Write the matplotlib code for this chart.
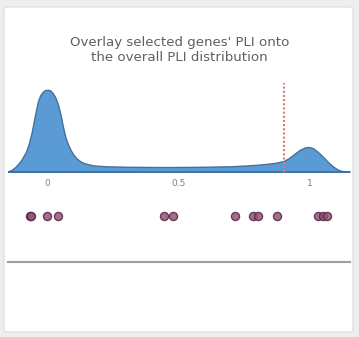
import numpy as np
import matplotlib
matplotlib.use('Agg')
from matplotlib import pyplot as plt
from matplotlib.patches import FancyBboxPatch
from matplotlib.lines import Line2D

# overall PLI distribution (density)
pli_grid = [-0.15, -0.135, -0.12, -0.10, -0.08, -0.068, -0.057, -0.045, -0.034, -0.025,
            -0.015, -0.006, 0.004, 0.013, 0.022, 0.032, 0.042, 0.052, 0.061, 0.07,
            0.08, 0.09, 0.10, 0.112, 0.125, 0.14, 0.16, 0.18, 0.22, 0.30, 0.40, 0.50,
            0.60, 0.70, 0.76, 0.80, 0.84, 0.87, 0.90, 0.92, 0.94, 0.96, 0.98, 0.995,
            1.01, 1.03, 1.05, 1.07, 1.09, 1.105, 1.12, 1.15]
density = [0.02, 0.08, 0.20, 0.44, 0.80, 1.16, 1.64, 2.30, 2.84, 3.08,
           3.22, 3.28, 3.29, 3.26, 3.16, 2.98, 2.70, 2.28, 1.80, 1.40,
           1.10, 0.88, 0.70, 0.55, 0.44, 0.36, 0.30, 0.26, 0.23, 0.21, 0.20, 0.20,
           0.21, 0.23, 0.26, 0.29, 0.33, 0.37, 0.44, 0.56, 0.72, 0.88, 0.98, 1.00,
           0.96, 0.80, 0.60, 0.38, 0.20, 0.10, 0.04, 0.02]

# selected genes' PLI values
gene_pli = [0.0, 0.005, 0.057, 0.094, 0.45, 0.48, 0.688, 0.748, 0.765, 0.829,
            0.966, 0.983, 0.997]
threshold = 0.9
tick_vals = [0, 0.5, 1]
tick_labels = ['0', '0.5', '1']

W, H = 359, 337
fig = plt.figure(figsize=(W / 100, H / 100), dpi=100)
fig.patch.set_facecolor('#eeeeee')
card = FancyBboxPatch((4 / W, 5 / H), 349 / W, 325 / H, boxstyle='round,pad=0,rounding_size=0.01',
                      transform=fig.transFigure, facecolor='white', edgecolor='#dddddd', lw=0.8,
                      zorder=-5)
fig.add_artist(card)

fig.text(0.5, 0.852, "Overlay selected genes' PLI onto\nthe overall PLI distribution",
         ha='center', va='center', fontsize=9.6, color='#606060', linespacing=1.2)

# density plot
ax = fig.add_axes([8 / W, (H - 172) / H, 342 / W, 97 / H])
ax.fill_between(pli_grid, density, 0, facecolor='#5b9bd5', edgecolor='#41719c', lw=1.0)
ax.plot([pli_grid[0], pli_grid[-1]], [0, 0], color='#41719c', lw=1.2)
ax.vlines(threshold, 0, 3.56, colors='#e8707a', linestyles=(0, (1, 1)), lw=1.5)
ax.set_xlim(-0.148, 1.152)
ax.set_ylim(0, 3.88)
ax.set_xticks(tick_vals)
ax.set_xticklabels(tick_labels, fontsize=6.5, color='#808080')
ax.tick_params(axis='x', length=0, pad=5)
ax.set_yticks([])
for s in ax.spines.values():
    s.set_visible(False)
ax.patch.set_alpha(0)

# selected genes strip
ax2 = fig.add_axes([15 / W, (H - 232) / H, 328 / W, 32 / H])
ax2.scatter(gene_pli, [0] * len(gene_pli), s=34, facecolor='#94557a', edgecolor='#572640',
            lw=1.0, alpha=0.85, zorder=3)
ax2.set_xlim(-0.05, 1.05)
ax2.set_ylim(-1, 1)
ax2.axis('off')

fig.add_artist(Line2D([8 / W, 350 / W], [(H - 262) / H] * 2, transform=fig.transFigure,
                      color='#a0a0a0', lw=1.5))

fig.savefig('out.png', dpi=100, facecolor=fig.get_facecolor())
